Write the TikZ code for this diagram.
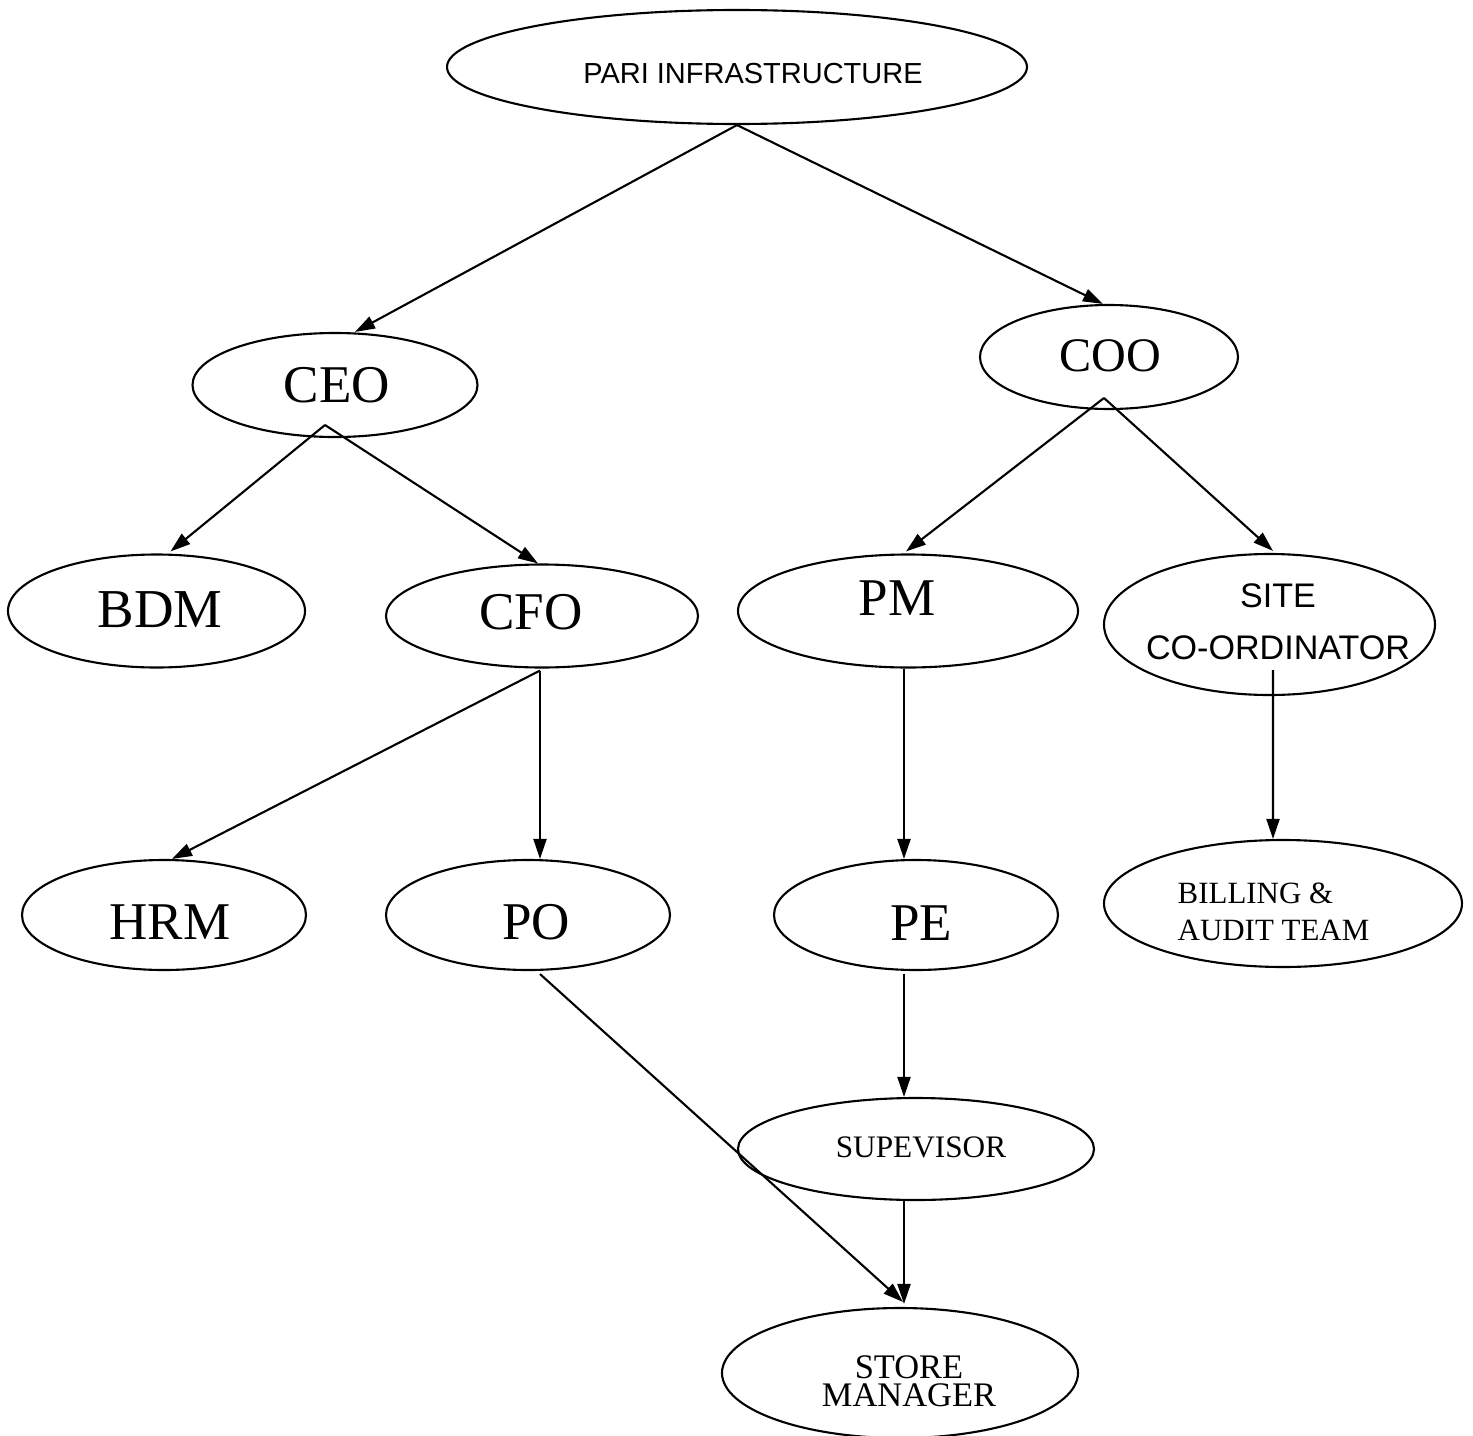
\documentclass[tikz,border=0pt]{standalone}
\usepackage{fontspec}
\setmainfont{Liberation Serif}
\newfontfamily\arialfont{Liberation Sans}
\usetikzlibrary{shapes.geometric,arrows.meta,calc}
\begin{document}
\begin{tikzpicture}[x=0.1mm,y=-0.1mm,
  oval/.style={draw, ellipse, line width=0.6pt, inner sep=0pt},
  lbl/.style={inner sep=0pt, font=\fontsize{15.1}{18}\selectfont},
  small/.style={inner sep=0pt, font=\fontsize{8.8}{10.5}\selectfont},
  arr/.style={-{Triangle[length=2mm,width=1.3mm]}, line width=0.6pt}]
\useasboundingbox (0,0) rectangle (1473,1436);
% ellipses
\node[oval, minimum width=58mm, minimum height=11.4mm] (pari) at (737,67) {};
\node[oval, minimum width=28.5mm, minimum height=10.4mm] (ceo) at (335,385) {};
\node[oval, minimum width=25.8mm, minimum height=10.4mm] (coo) at (1109,357) {};
\node[oval, minimum width=29.7mm, minimum height=11.3mm] (bdm) at (156.5,611) {};
\node[oval, minimum width=31.2mm, minimum height=10.3mm] (cfo) at (542,616) {};
\node[oval, minimum width=34mm, minimum height=11.3mm] (pm) at (908,611) {};
\node[oval, minimum width=33.1mm, minimum height=14.1mm] (site) at (1269.5,624.5) {};
\node[oval, minimum width=28.4mm, minimum height=11mm] (hrm) at (164,915) {};
\node[oval, minimum width=28.4mm, minimum height=11mm] (po) at (528,915) {};
\node[oval, minimum width=28.4mm, minimum height=11mm] (pe) at (916,915) {};
\node[oval, minimum width=35.8mm, minimum height=12.7mm] (bill) at (1283,903.5) {};
\node[oval, minimum width=35.6mm, minimum height=10.2mm] (sup) at (916,1149) {};
\node[oval, minimum width=35.6mm, minimum height=13mm] (store) at (900,1373) {};
% texts
\node[inner sep=0pt, font=\arialfont\fontsize{8.25}{10}\selectfont] (tpari) at (753,74) {PARI INFRASTRUCTURE};
\node[lbl] (tceo) at (337,385.5) {CEO};
\node[lbl, font=\fontsize{13.7}{16}\selectfont] (tcoo) at (1110,356) {COO};
\node[lbl, font=\fontsize{15.6}{18}\selectfont] (tbdm) at (160,610) {BDM};
\node[lbl] (tcfo) at (531,612.5) {CFO};
\node[lbl] (tpm) at (897,598) {PM};
\node[lbl] (thrm) at (170,922.5) {HRM};
\node[lbl] (tpo) at (536,922.5) {PO};
\node[lbl] (tpe) at (921,923) {PE};
\node[inner sep=0pt, align=center, font=\arialfont\fontsize{9.7}{14.8}\selectfont] (tsite) at (1278,621.5) {SITE\\CO-ORDINATOR};
\node[small, align=left, anchor=west] (tbill) at (1177,911.5) {BILLING \&\\AUDIT TEAM};
\node[small, font=\fontsize{8.9}{10.5}\selectfont] (tsup) at (921,1147) {SUPEVISOR};
\node[small, align=center, font=\fontsize{9.8}{8}\selectfont] (tstore) at (909,1381) {STORE\\MANAGER};
% connectors
\coordinate (ceoA) at ($(ceo.center)+(-10,40)$);
\coordinate (cooA) at ($(coo.center)+(-5,41)$);
\coordinate (siteA) at ($(site.center)+(3.5,45.5)$);
\draw[arr] (pari.south) -- ($(ceo.north)+(20,0)$);
\draw[arr] (pari.south) -- ($(coo.north)+(-6,0)$);
\draw[arr] (ceoA) -- ($(bdm.north)+(14,-2)$);
\draw[arr] (ceoA) -- ($(cfo.north)+(-4,0)$);
\draw[arr] (cooA) -- ($(pm.north)+(-2,-2)$);
\draw[arr] (cooA) -- ($(site.north)+(3.5,-2)$);
\draw[arr] ($(cfo.south)+(-2,2)$) -- ($(hrm.north)+(8,0)$);
\draw[arr] ($(cfo.south)+(-2,2)$) -- ($(po.north)+(12,0)$);
\draw[arr] ($(pm.south)+(-4,0)$) -- ($(pe.north)+(-12,0)$);
\draw[arr] (siteA) -- ($(bill.north)+(-10,0)$);
\draw[arr] ($(pe.south)+(-12,3)$) -- ($(sup.north)+(-12,0)$);
\draw[arr] ($(sup.south)+(-12,0)$) -- ($(store.north)+(4,-3)$);
\draw[arr] ($(po.south)+(12,3)$) -- ($(store.north)+(3,-5)$);
\end{tikzpicture}
\end{document}
